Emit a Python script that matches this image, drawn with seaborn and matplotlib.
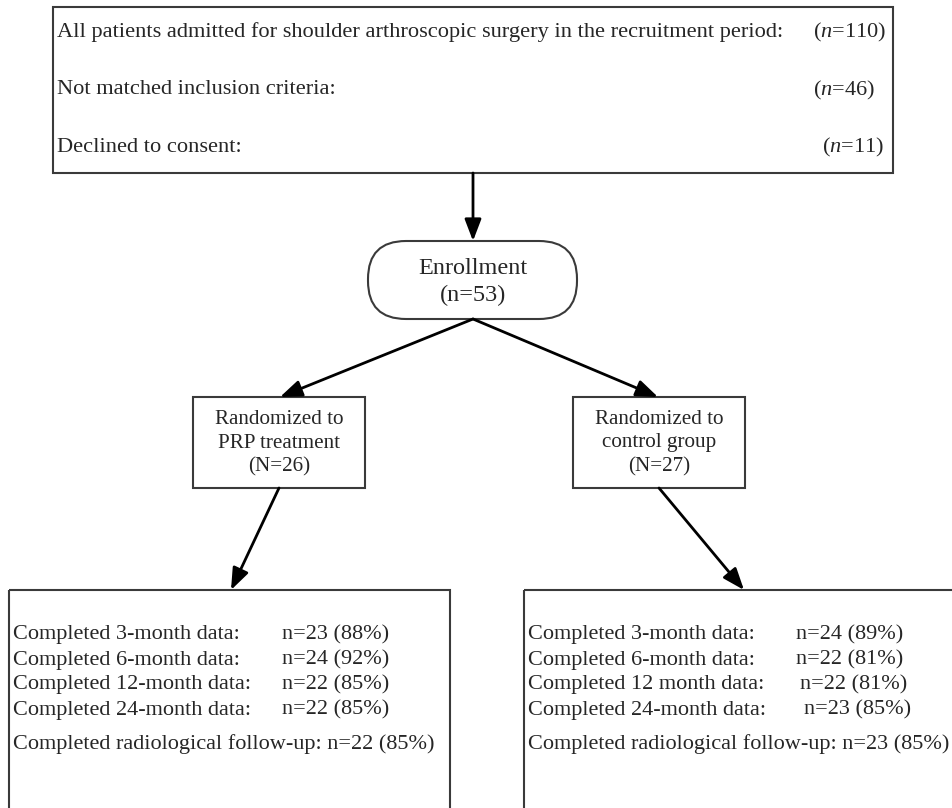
import matplotlib
matplotlib.use("Agg")
import matplotlib.pyplot as plt
from matplotlib.patches import Rectangle, FancyBboxPatch
import seaborn as sns

sns.set_theme(style="white")
plt.rcParams['font.family'] = ['Liberation Serif', 'DejaVu Serif']
plt.rcParams['mathtext.fontset'] = 'custom'
plt.rcParams['mathtext.rm'] = 'Liberation Serif'
plt.rcParams['mathtext.it'] = 'Liberation Serif:italic'

# ---- data ----
screen_labels = ["All patients admitted for shoulder arthroscopic surgery in the recruitment period:",
                 "Not matched inclusion criteria:",
                 "Declined to consent:"]
screen_counts = [110, 46, 11]
enrolled = 53
group_names = ["Randomized to\nPRP treatment", "Randomized to\ncontrol group"]
group_sizes = [26, 27]
followup_labels = [["Completed 3-month data:", "Completed 6-month data:",
                    "Completed 12-month data:", "Completed 24-month data:"],
                   ["Completed 3-month data:", "Completed 6-month data:",
                    "Completed 12 month data:", "Completed 24-month data:"]]
followup_n = [[23, 24, 22, 22], [24, 22, 22, 23]]
followup_pct = [[88, 92, 85, 85], [89, 81, 81, 85]]
radiology_n = [22, 23]
radiology_pct = [85, 85]

# ---- layout ----
fig = plt.figure(figsize=(9.53, 8.08), dpi=100)
ax = fig.add_axes([0, 0, 1, 1])
ax.set_xlim(0, 953)
ax.set_ylim(808, 0)
ax.axis("off")

EC = "#3a3a3a"
LW = 1.5

# top box
ax.add_patch(Rectangle((53, 7), 840, 166, fill=False, ec=EC, lw=LW))
top_y = [32, 90, 147]
right_x = [886, 875, 884]
for lab, c, y, rx in zip(screen_labels, screen_counts, top_y, right_x):
    ax.text(57, y, lab, fontsize=16.1, ha="left", va="center")
    ax.text(rx, y, r"($\mathit{n}$=" + str(c) + ")", fontsize=16.1, ha="right", va="center")

def arrow(x0, y0, x1, y1):
    ax.annotate("", xy=(x1, y1), xytext=(x0, y0),
                arrowprops=dict(arrowstyle="-|>,head_length=1.1,head_width=0.42",
                                color="black", lw=2.0, shrinkA=0, shrinkB=0))

arrow(473, 173, 473, 241)

# enrollment pill
ax.add_patch(FancyBboxPatch((368, 241), 209, 78,
                            boxstyle="round,pad=0,rounding_size=38",
                            fill=False, ec=EC, lw=LW))
ax.text(473, 268, "Enrollment", fontsize=17.5, ha="center", va="center")
ax.text(473, 295, f"(n={enrolled})", fontsize=17.5, ha="center", va="center")

arrow(473, 319, 280, 397)
arrow(473, 319, 658, 397)

# group boxes
gbox_x = [193, 573]
for gx, name, n in zip(gbox_x, group_names, group_sizes):
    ax.add_patch(Rectangle((gx, 397), 172, 91, fill=False, ec=EC, lw=LW))
    cx = gx + 86
    l1, l2 = name.split("\n")
    ax.text(cx, 419, l1, fontsize=15.2, ha="center", va="center")
    ax.text(cx, 443, l2, fontsize=15.2, ha="center", va="center")
    ax.text(cx, 467, f"(N={n})", fontsize=15.2, ha="center", va="center")

arrow(279, 488, 231, 590)
arrow(659, 488, 744, 590)

# follow-up boxes
fb_x = [9, 524]
fb_w = [441, 460]
val_x = [[282, 282, 282, 282], [796, 796, 800, 804]]
line_y = [635, 660, 685, 710]
FB = 16.0
for i in range(2):
    ax.add_patch(Rectangle((fb_x[i], 590), fb_w[i], 260, fill=False, ec=EC, lw=LW))
    for j in range(4):
        ax.text(fb_x[i] + 4, line_y[j], followup_labels[i][j], fontsize=FB,
                ha="left", va="center")
        ax.text(val_x[i][j], line_y[j], f"n={followup_n[i][j]} ({followup_pct[i][j]}%)",
                fontsize=FB, ha="left", va="center")
    ax.text(fb_x[i] + 4, 744,
            f"Completed radiological follow-up: n={radiology_n[i]} ({radiology_pct[i]}%)",
            fontsize=FB, ha="left", va="center")

fig.savefig("out.png", dpi=100)
